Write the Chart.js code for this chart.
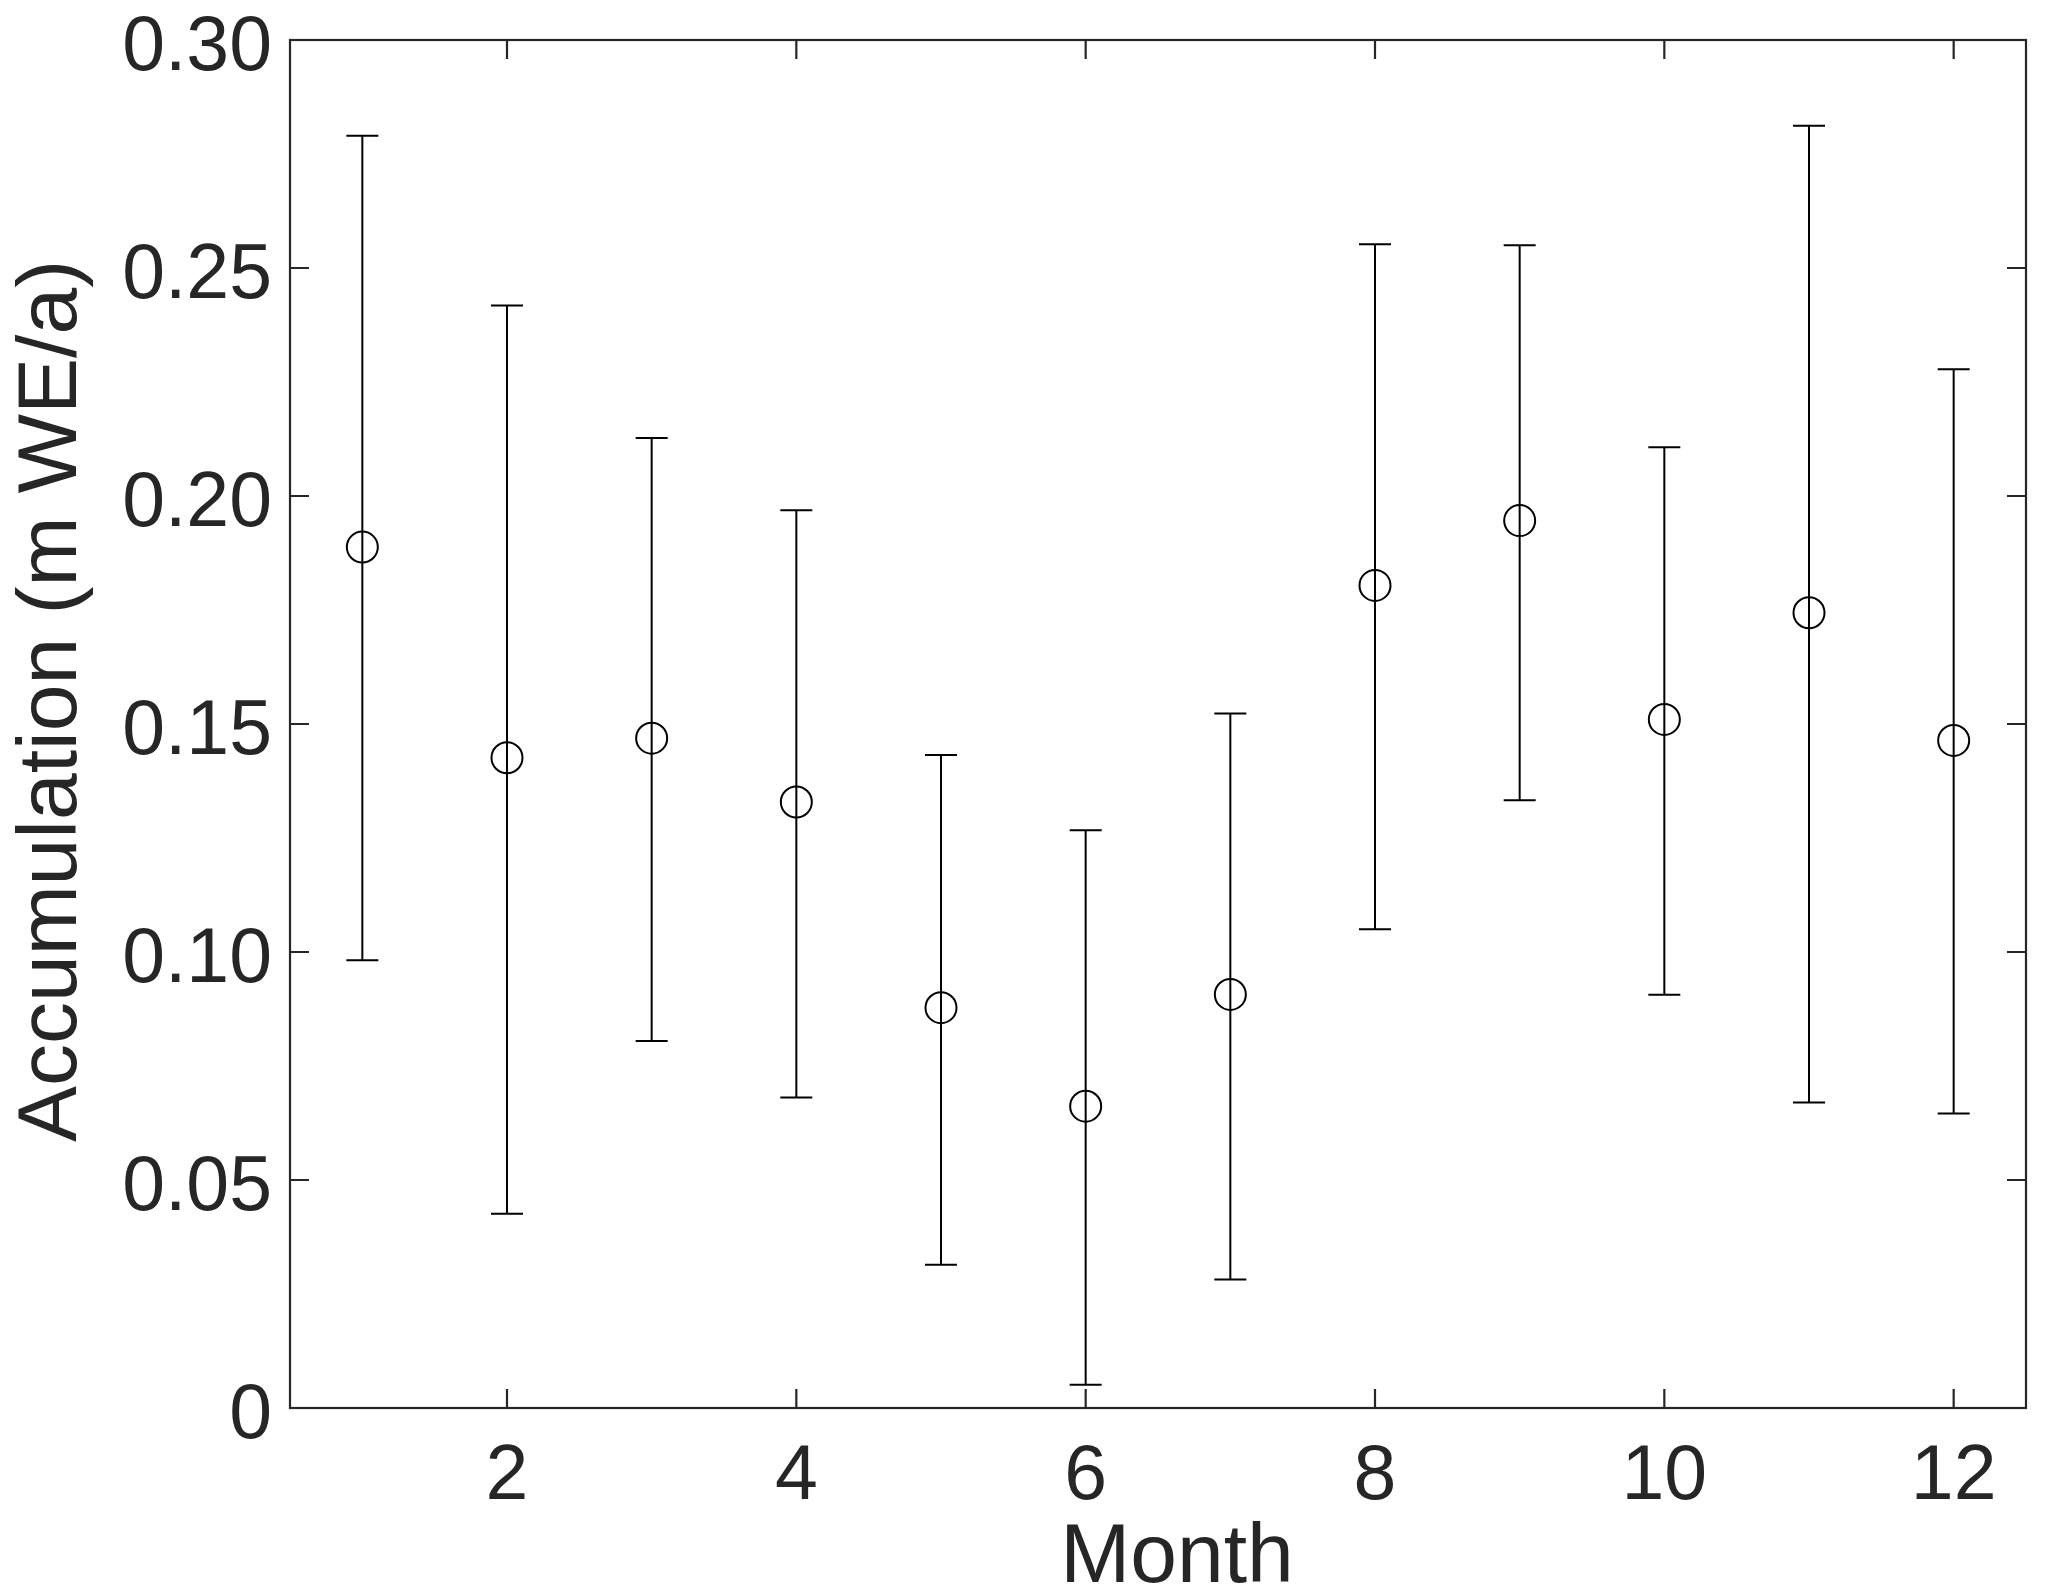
<!DOCTYPE html>
<html>
<head>
<meta charset="utf-8">
<title>Accumulation by month</title>
<script src="https://cdn.jsdelivr.net/npm/chart.js@4.4.1/dist/chart.umd.min.js"></script>
<style>
  html, body { margin: 0; padding: 0; background: #fff; }
  #myChart { display: block; }
</style>
</head>
<body>
<canvas id="myChart" width="2067" height="1594"></canvas>
<script>
//---------------DATA-------------
let months = [1, 2, 3, 4, 5, 6, 7, 8, 9, 10, 11, 12];
let accumulation = [0.1888, 0.1426, 0.1469, 0.1329, 0.0878, 0.0662, 0.0907, 0.1804, 0.1946, 0.1510, 0.1744, 0.1464];
let errUpper = [0.2790, 0.2418, 0.2127, 0.1969, 0.1432, 0.1267, 0.1523, 0.2552, 0.2550, 0.2107, 0.2812, 0.2278];
let errLower = [0.0982, 0.0426, 0.0805, 0.0681, 0.0314, 0.0051, 0.0282, 0.1050, 0.1333, 0.0906, 0.0670, 0.0646];
let xTickValues = [2, 4, 6, 8, 10, 12];
let yTickValues = [0, 0.05, 0.10, 0.15, 0.20, 0.25, 0.30];
let yTickLabels = ["0", "0.05", "0.10", "0.15", "0.20", "0.25", "0.30"];
let xTitle = "Month",
  yTitle = "Accumulation (m WE/a)";

let axisColor = "#262626",
  fontFamily = "'Liberation Sans', Arial, sans-serif",
  tickFont = { family: fontFamily, size: 77 };

//---------------ERROR BARS (drawn through the chart scales)-------------
const errorBars = {
  id: "errorBars",
  beforeDatasetsDraw(chart) {
    let ctx = chart.ctx,
      x = chart.scales.x,
      y = chart.scales.y;
    ctx.save();
    ctx.strokeStyle = "#000";
    ctx.lineWidth = 2;
    ctx.lineCap = "butt";
    for (let i = 0; i < months.length; i++) {
      let px = x.getPixelForValue(months[i]),
        top = y.getPixelForValue(errUpper[i]),
        bot = y.getPixelForValue(errLower[i]);
      ctx.beginPath();
      ctx.moveTo(px, top);
      ctx.lineTo(px, bot);
      ctx.moveTo(px - 16, top);
      ctx.lineTo(px + 16, top);
      ctx.moveTo(px - 16, bot);
      ctx.lineTo(px + 16, bot);
      ctx.stroke();
    }
    ctx.restore();
  },
};

//---------------BOX, INWARD TICKS AND AXIS TITLES-------------
const boxTicks = {
  id: "boxTicks",
  afterDraw(chart) {
    let ctx = chart.ctx,
      a = chart.chartArea,
      x = chart.scales.x,
      y = chart.scales.y,
      len = 19;
    ctx.save();
    ctx.strokeStyle = axisColor;
    ctx.lineWidth = 2.2;
    ctx.strokeRect(a.left, a.top, a.right - a.left, a.bottom - a.top);
    ctx.beginPath();
    xTickValues.forEach((v) => {
      let px = x.getPixelForValue(v);
      ctx.moveTo(px, a.bottom);
      ctx.lineTo(px, a.bottom - len);
      ctx.moveTo(px, a.top);
      ctx.lineTo(px, a.top + len);
    });
    yTickValues.forEach((v) => {
      let py = y.getPixelForValue(v);
      ctx.moveTo(a.left, py);
      ctx.lineTo(a.left + len, py);
      ctx.moveTo(a.right, py);
      ctx.lineTo(a.right - len, py);
    });
    ctx.stroke();

    // axis titles, placed like the matlab ones (a bit off the axis centre)
    ctx.fillStyle = axisColor;
    ctx.font = "84px " + fontFamily;
    ctx.textAlign = "center";
    ctx.textBaseline = "alphabetic";
    ctx.fillText(xTitle, (a.left + a.right) / 2 + 19, a.bottom + 174);
    ctx.translate(a.left - 214, (a.top + a.bottom) / 2 - 23);
    ctx.rotate(-Math.PI / 2);
    ctx.fillText(yTitle, 0, 0);
    ctx.restore();
  },
};

//---------------CHART-------------
let ctx = document.getElementById("myChart").getContext("2d");
let myChart = new Chart(ctx, {
  type: "scatter",
  data: {
    datasets: [
      {
        label: "Accumulation",
        data: months.map((m, i) => ({ x: m, y: accumulation[i] })),
        pointStyle: "circle",
        pointRadius: 15.5,
        pointBorderWidth: 2,
        borderColor: "#000",
        backgroundColor: "rgba(0,0,0,0)",
        showLine: false,
      },
    ],
  },
  options: {
    responsive: false,
    animation: false,
    events: [],
    layout: { padding: { top: 40, right: 41, left: 0, bottom: 0 } },
    plugins: {
      legend: { display: false },
      tooltip: { enabled: false },
    },
    scales: {
      x: {
        type: "linear",
        min: 0.5,
        max: 12.5,
        afterFit(scale) {
          scale.height = 186;
          scale.paddingLeft = 0;
          scale.paddingRight = 0;
        },
        afterBuildTicks(scale) {
          scale.ticks = xTickValues.map((v) => ({ value: v }));
        },
        grid: { display: false, drawTicks: false },
        border: { display: false },
        ticks: {
          autoSkip: false,
          maxRotation: 0,
          padding: 24,
          color: axisColor,
          font: tickFont,
          callback: (v) => String(v),
        },
      },
      y: {
        type: "linear",
        min: 0,
        max: 0.3,
        afterFit(scale) {
          scale.width = 290;
          scale.paddingTop = 0;
          scale.paddingBottom = 0;
        },
        afterBuildTicks(scale) {
          scale.ticks = yTickValues.map((v) => ({ value: v }));
        },
        grid: { display: false, drawTicks: false },
        border: { display: false },
        ticks: {
          autoSkip: false,
          padding: 18,
          labelOffset: 9,
          color: axisColor,
          font: tickFont,
          callback: (v) => yTickLabels[yTickValues.findIndex((t) => Math.abs(t - v) < 1e-9)],
        },
      },
    },
  },
  plugins: [errorBars, boxTicks],
});
</script>
</body>
</html>
